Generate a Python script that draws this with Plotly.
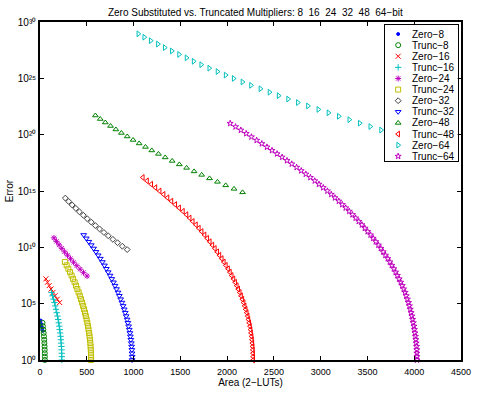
import plotly.graph_objects as go

# ---------------- data ----------------
# Error values are stored as log10 exponents and converted below.
zero8_area = [7, 13, 20, 28]
zero8_exp = [3.5, 3.2, 2.9, 2.6]

trunc8_area = [52, 52, 51, 50, 49, 47, 45, 42, 39, 35, 31, 27]
trunc8_exp = [0.0, 0.3, 0.6, 0.9, 1.2, 1.5, 1.8, 2.1, 2.4, 2.7, 3.0, 3.3]

zero16_area = [63, 80, 98, 118, 139, 161, 185, 210]
zero16_exp = [7.2, 6.9, 6.6, 6.3, 6.0, 5.7, 5.4, 5.1]

trunc16_area = [233, 233, 232, 231, 229, 226, 223, 220, 215, 211, 206, 200, 194,
                187, 179, 171, 163, 154, 144, 134, 123]
trunc16_exp = [0.0, 0.3, 0.6, 0.9, 1.2, 1.5, 1.8, 2.1, 2.4, 2.7, 3.0, 3.3, 3.6,
               3.9, 4.2, 4.5, 4.8, 5.1, 5.4, 5.7, 6.0]

zero24_area = [149, 176, 204, 233, 263, 294, 326, 359, 393, 429, 465, 503]
zero24_exp = [10.84, 10.53, 10.22, 9.91, 9.6, 9.3, 8.99, 8.68, 8.37, 8.06, 7.75, 7.45]

trunc24_area = [546, 546, 545, 543, 541, 538, 534, 530, 525, 519, 513, 506, 498,
                490, 481, 471, 461, 450, 438, 426, 413, 399, 385, 370, 354, 338,
                321, 303, 285, 266]
trunc24_exp = [0.0, 0.3, 0.6, 0.9, 1.2, 1.5, 1.8, 2.1, 2.4, 2.7, 3.0, 3.3, 3.6,
               3.9, 4.2, 4.5, 4.8, 5.1, 5.4, 5.7, 6.0, 6.3, 6.6, 6.9, 7.2, 7.5,
               7.8, 8.1, 8.4, 8.7]

zero32_area = [271, 307, 344, 383, 422, 463, 505, 548, 592, 637, 683, 730, 779,
               829, 880, 932]
zero32_exp = [14.37, 14.07, 13.76, 13.46, 13.15, 12.85, 12.54, 12.24, 11.93,
              11.63, 11.32, 11.02, 10.71, 10.41, 10.1, 9.8]

trunc32_area = [985, 985, 983, 982, 979, 976, 971, 966, 961, 954, 947, 939, 931,
                921, 911, 900, 888, 876, 862, 848, 834, 818, 802, 785, 767, 749,
                729, 709, 689, 667, 645, 622, 598, 573, 548, 522, 495, 467]
trunc32_exp = [0.0, 0.3, 0.6, 0.9, 1.2, 1.5, 1.8, 2.1, 2.4, 2.7, 3.0, 3.3, 3.6,
               3.9, 4.2, 4.5, 4.8, 5.1, 5.4, 5.7, 6.0, 6.3, 6.6, 6.9, 7.2, 7.5,
               7.8, 8.1, 8.4, 8.7, 9.0, 9.3, 9.6, 9.9, 10.2, 10.5, 10.8, 11.1]

zero48_area = [592, 644, 698, 754, 811, 870, 932, 995, 1060, 1127, 1195, 1266,
               1338, 1413, 1489, 1567, 1647, 1728, 1812, 1897, 1985, 2074, 2165]
zero48_exp = [21.7, 21.39, 21.08, 20.77, 20.46, 20.15, 19.84, 19.53, 19.22,
              18.91, 18.6, 18.29, 17.98, 17.67, 17.36, 17.05, 16.74, 16.43,
              16.12, 15.81, 15.5, 15.19, 14.88]

trunc48_area = [2279, 2278, 2277, 2275, 2273, 2270, 2266, 2262, 2256, 2251, 2245,
                2237, 2228, 2220, 2210, 2199, 2188, 2176, 2163, 2149, 2135, 2119,
                2103, 2086, 2068, 2049, 2030, 2010, 1987, 1965, 1943, 1918, 1894,
                1869, 1843, 1815, 1787, 1759, 1728, 1698, 1667, 1633, 1600, 1566,
                1528, 1487, 1446, 1405, 1363, 1321, 1279, 1234, 1189, 1144, 1099]
trunc48_exp = [0.0, 0.3, 0.6, 0.9, 1.2, 1.5, 1.8, 2.1, 2.4, 2.7, 3.0, 3.3, 3.6,
               3.9, 4.2, 4.5, 4.8, 5.1, 5.4, 5.7, 6.0, 6.3, 6.6, 6.9, 7.2, 7.5,
               7.8, 8.1, 8.4, 8.7, 9.0, 9.3, 9.6, 9.9, 10.2, 10.5, 10.8, 11.1,
               11.4, 11.7, 12.0, 12.3, 12.6, 12.9, 13.2, 13.5, 13.8, 14.1, 14.4,
               14.7, 15.0, 15.3, 15.6, 15.9, 16.2]

zero64_area = [1051, 1114, 1183, 1260, 1333, 1409, 1486, 1566, 1642, 1723, 1809,
               1897, 1984, 2070, 2164, 2255, 2356, 2453, 2550, 2652, 2756, 2864,
               2975, 3083, 3194, 3306, 3417, 3530, 3646, 3762, 3880, 4000]
zero64_exp = [28.95, 28.65, 28.34, 28.04, 27.73, 27.43, 27.12, 26.82, 26.51,
              26.21, 25.9, 25.6, 25.29, 24.99, 24.68, 24.38, 24.07, 23.77, 23.46,
              23.16, 22.85, 22.55, 22.24, 21.94, 21.63, 21.33, 21.02, 20.72,
              20.41, 20.11, 19.8, 19.5]

trunc64_area = [4030, 4029, 4028, 4027, 4025, 4021, 4017, 4013, 4008, 4002, 3997,
                3990, 3983, 3975, 3967, 3958, 3949, 3939, 3927, 3915, 3903, 3887,
                3872, 3856, 3839, 3820, 3801, 3782, 3760, 3739, 3717, 3692, 3668,
                3643, 3617, 3589, 3561, 3533, 3502, 3472, 3441, 3407, 3374, 3340,
                3305, 3268, 3231, 3194, 3153, 3113, 3072, 3027, 2982, 2937, 2890,
                2841, 2792, 2743, 2691, 2640, 2588, 2534, 2480, 2426, 2371, 2316,
                2260, 2204, 2147, 2090, 2033]
trunc64_exp = [0.0, 0.3, 0.6, 0.9, 1.2, 1.5, 1.8, 2.1, 2.4, 2.7, 3.0, 3.3, 3.6,
               3.9, 4.2, 4.5, 4.8, 5.1, 5.4, 5.7, 6.0, 6.3, 6.6, 6.9, 7.2, 7.5,
               7.8, 8.1, 8.4, 8.7, 9.0, 9.3, 9.6, 9.9, 10.2, 10.5, 10.8, 11.1,
               11.4, 11.7, 12.0, 12.3, 12.6, 12.9, 13.2, 13.5, 13.8, 14.1, 14.4,
               14.7, 15.0, 15.3, 15.6, 15.9, 16.2, 16.5, 16.8, 17.1, 17.4, 17.7,
               18.0, 18.3, 18.6, 18.9, 19.2, 19.5, 19.8, 20.1, 20.4, 20.7, 21.0]

series_names = ["Zero−8", "Trunc−8", "Zero−16", "Trunc−16", "Zero−24", "Trunc−24",
                "Zero−32", "Trunc−32", "Zero−48", "Trunc−48", "Zero−64", "Trunc−64"]
series_area = [zero8_area, trunc8_area, zero16_area, trunc16_area, zero24_area,
               trunc24_area, zero32_area, trunc32_area, zero48_area, trunc48_area,
               zero64_area, trunc64_area]
series_exp = [zero8_exp, trunc8_exp, zero16_exp, trunc16_exp, zero24_exp,
              trunc24_exp, zero32_exp, trunc32_exp, zero48_exp, trunc48_exp,
              zero64_exp, trunc64_exp]

x_tick_vals = [0, 500, 1000, 1500, 2000, 2500, 3000, 3500, 4000, 4500]
y_tick_vals = [1e0, 1e5, 1e10, 1e15, 1e20, 1e25, 1e30]
y_tick_text = ["10\u2070", "10\u2075", "10\u00b9\u2070", "10\u00b9\u2075",
               "10\u00b2\u2070", "10\u00b2\u2075", "10\u00b3\u2070"]

title_text = ("Zero Substituted vs. Truncated Multipliers: 8\u00a0\u00a016\u00a0\u00a024"
              "\u00a0\u00a032\u00a0\u00a048\u00a0\u00a064−bit")

# ---------------- styles ----------------
colors = ["#0000FF", "#008000", "#FF0000", "#00BFBF", "#BF00BF", "#BFBF00",
          "#404040", "#0000FF", "#008000", "#FF0000", "#00BFBF", "#BF00BF"]
symbols = ["circle", "circle-open", "x-thin-open", "cross-thin-open", "asterisk-open",
           "square-open", "diamond-open", "triangle-down-open", "triangle-up-open",
           "triangle-left-open", "triangle-right-open", "star-open"]
sizes = [3, 5, 5, 4.5, 5, 5, 4.5, 5, 5, 5, 5, 4.5]

FONT = "Liberation Sans, Arial, Helvetica, sans-serif"

fig = go.Figure()
for name, xa, ea, c, s, sz in zip(series_names, series_area, series_exp, colors, symbols, sizes):
    assert len(xa) == len(ea)
    fig.add_trace(go.Scatter(
        x=xa, y=[10 ** v for v in ea], mode="markers", name=name,
        marker=dict(symbol=s, size=sz, color=c, line=dict(color=c, width=1)),
        cliponaxis=False, showlegend=False, xaxis="x", yaxis="y"))

# legend drawn as an inset box (one row per series)
n = len(series_names)
for i, (name, c, s, sz) in enumerate(zip(series_names, colors, symbols, sizes)):
    fig.add_trace(go.Scatter(
        x=[13.7], y=[n - 1 - i], mode="markers", showlegend=False,
        marker=dict(symbol=s, size=sz, color=c, line=dict(color=c, width=1)),
        xaxis="x2", yaxis="y2", hoverinfo="skip"))
    fig.add_annotation(x=26, y=n - 1 - i, xref="x2", yref="y2", text=name,
                       showarrow=False, xanchor="left", yanchor="middle",
                       font=dict(family=FONT, size=10, color="black"))

axis_common = dict(showline=True, linecolor="black", linewidth=1.5, mirror="allticks",
                   ticks="inside", ticklen=4, tickcolor="black", tickwidth=1,
                   showgrid=False, zeroline=False)

fig.update_layout(
    width=480, height=393,
    margin=dict(l=40, r=9, t=22, b=32),
    paper_bgcolor="white", plot_bgcolor="white",
    font=dict(family=FONT, size=9, color="black"),
    showlegend=False,
    title=dict(text=title_text, x=0.532, xref="container", xanchor="center",
               y=1 - 12 / 393, yref="container", yanchor="middle",
               font=dict(family=FONT, size=10, color="black")),
    xaxis=dict(range=[0, 4500], tickvals=x_tick_vals, ticklabelstandoff=2,
               tickfont=dict(family=FONT, size=9, color="black"),
               title=dict(text="Area (2−LUTs)", standoff=0,
                          font=dict(family=FONT, size=10, color="black")),
               **axis_common),
    yaxis=dict(type="log", range=[0, 30], tickvals=y_tick_vals, ticktext=y_tick_text,
               tickfont=dict(family=FONT, size=10, color="black"),
               title=dict(text="Error", standoff=2,
                          font=dict(family=FONT, size=10, color="black")),
               **axis_common),
    xaxis2=dict(domain=[0.819, 0.992], range=[0, 74.7], anchor="y2",
                showline=True, mirror=True, linecolor="black", linewidth=1,
                showticklabels=False, ticks="", showgrid=False, zeroline=False,
                fixedrange=True),
    yaxis2=dict(domain=[0.588, 0.991], range=[-0.45, 11.81], anchor="x2",
                showline=True, mirror=True, linecolor="black", linewidth=1,
                showticklabels=False, ticks="", showgrid=False, zeroline=False,
                fixedrange=True),
)

fig.write_html("out.html")
